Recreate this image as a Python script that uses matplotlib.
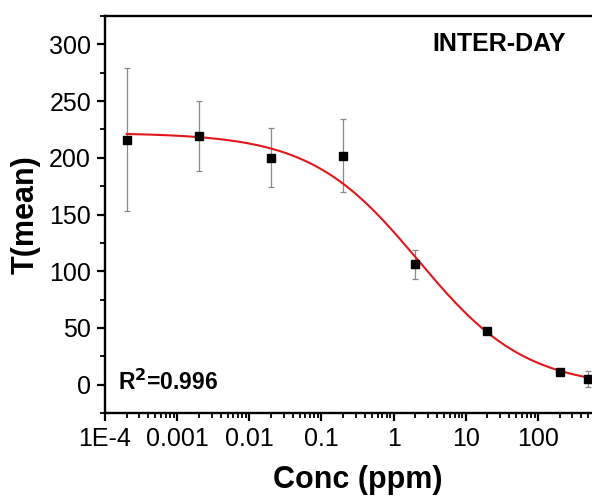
#!/usr/bin/env python3
"""Inter-day dose response curve."""

import sys
import numpy as np
import matplotlib
matplotlib.use('Agg')
import matplotlib.pyplot as plt
from matplotlib.ticker import FixedLocator, MultipleLocator, LogLocator, NullFormatter

# Data
conc = [2e-4, 2e-3, 2e-2, 2e-1, 2, 20, 200, 500]
t_mean = [216, 219, 200, 202, 106, 47, 11, 5]
t_err = [63, 31, 26, 32, 12.5, 2, 2, 7]

# Dose-response fit parameters
A1 = 222.0
A2 = -3.0
X0 = 2.2
P = 0.58

xtick_vals = [1e-4, 1e-3, 1e-2, 1e-1, 1, 10, 100, 1000]
xtick_labels = ['1E-4', '0.001', '0.01', '0.1', '1', '10', '100', '']


def dose_resp(x, a1, a2, x0, p):
    """Logistic dose-response."""
    return a2 + (a1 - a2) / (1 + (x / x0) ** p)


def main() -> int:
    """Draw the figure."""
    plt.rcParams['font.family'] = ['Liberation Sans', 'DejaVu Sans']

    fig = plt.figure(figsize=(5.92, 5.01), dpi=100)
    ax = fig.add_axes([105 / 592, 1 - 413 / 501, 505 / 592, (413 - 16) / 501])

    xs = np.logspace(np.log10(conc[0]), 3, 400)
    ax.plot(xs, dose_resp(xs, A1, A2, X0, P), color='#e3161b', lw=1.5, zorder=2)

    ax.errorbar(conc, t_mean, yerr=t_err, fmt='none', ecolor='#8a8a8a',
                elinewidth=0.9, capsize=2.5, capthick=0.9, zorder=1)
    ax.plot(conc, t_mean, 's', color='black', markersize=6, zorder=3)

    ax.set_xscale('log')
    ax.set_xlim(1e-4, 1e3)
    ax.set_ylim(-25, 325)

    ax.xaxis.set_major_locator(FixedLocator(xtick_vals))
    ax.set_xticklabels(xtick_labels)
    ax.xaxis.set_minor_locator(LogLocator(base=10, subs=np.arange(2, 10), numticks=20))
    ax.xaxis.set_minor_formatter(NullFormatter())
    ax.yaxis.set_major_locator(MultipleLocator(50))
    ax.yaxis.set_minor_locator(MultipleLocator(25))

    for s in ax.spines.values():
        s.set_linewidth(1.7)

    ax.tick_params(which='major', direction='out', length=6, width=1.6,
                   labelsize=18, top=False, right=False, pad=4)
    ax.tick_params(which='minor', direction='out', length=3.5, width=1.3,
                   top=False, right=False)

    ax.set_xlabel('Conc (ppm)', fontsize=22, fontweight='bold', labelpad=10)
    ax.set_ylabel('T(mean)', fontsize=22, fontweight='bold', labelpad=6)

    fig.text(499 / 592, 1 - 44 / 501, 'INTER-DAY', fontsize=18,
             fontweight='bold', ha='center', va='center')
    fig.text(118 / 592, 1 - 382 / 501, r'R$^\mathbf{2}$=0.996', fontsize=16.5,
             fontweight='bold', ha='left', va='center')

    fig.savefig('out.png', dpi=100)
    return 0


if __name__ == '__main__':
    sys.exit(main())
